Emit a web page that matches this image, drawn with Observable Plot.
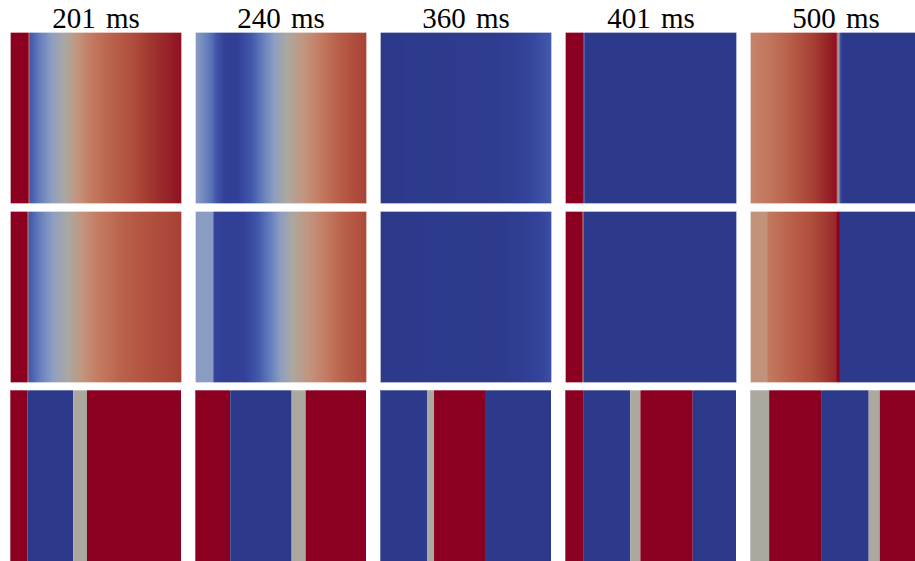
<!DOCTYPE html>
<html><head><meta charset="utf-8">
<script src="https://cdn.jsdelivr.net/npm/d3@7"></script>
<script src="https://cdn.jsdelivr.net/npm/@observablehq/plot@0.6"></script>
<style>html,body{margin:0;padding:0;background:#fff;overflow:hidden}
#chart svg{max-width:none !important;}
#chart text{font-family:"Liberation Serif","DejaVu Serif",serif !important;word-spacing:3px;}</style>
</head><body><div id="chart"></div>
<script>
// Column titles and row ids
const times = ["201 ms", "240 ms", "360 ms", "401 ms", "500 ms"];
const rows = ["r1", "r2", "r3"];

// Diverging colour map (value -1 = blue, 0 = grey, 1 = red)
const cmapValues = [-1, -0.8, -0.6, -0.4, -0.2, 0, 0.2, 0.35, 0.55, 0.75, 0.9, 1];
const cmapColors = ["#2d3a8c", "#34449b", "#4258ab", "#6680bd", "#8e9fc2", "#aba8a0",
                    "#c2957f", "#c47b62", "#b65a45", "#a43c32", "#951f26", "#8b0020"];

// Rows 1 and 2: profile breakpoints [position 0..1, value]
const r1_201 = [[0,1],[0.107,1],[0.11,-0.62],[0.18,-0.38],[0.25,-0.18],[0.32,0],[0.39,0.2],[0.47,0.35],[0.59,0.5],[0.71,0.62],[0.82,0.78],[0.94,0.9],[1,0.95]];
const r1_240 = [[0,-0.22],[0.05,-0.35],[0.1,-0.5],[0.17,-0.85],[0.23,-0.9],[0.31,-0.65],[0.39,-0.42],[0.46,-0.2],[0.535,0],[0.62,0.18],[0.72,0.33],[0.82,0.5],[0.92,0.62],[1,0.7]];
const r1_360 = [[0,-1],[0.6,-0.97],[0.77,-0.9],[0.9,-0.75],[1,-0.58]];
const r1_401 = [[0,1],[0.104,1],[0.106,0],[0.112,-1],[1,-1]];
const r1_500 = [[0,0.3],[0.11,0.38],[0.23,0.52],[0.35,0.7],[0.45,0.88],[0.5,0.95],[0.512,0.2],[0.523,-0.6],[0.54,-1],[1,-1]];

const r2_201 = [[0,1],[0.101,1],[0.104,-0.62],[0.18,-0.38],[0.26,-0.17],[0.34,0],[0.42,0.2],[0.5,0.33],[0.65,0.5],[0.8,0.6],[1,0.72]];
const r2_240 = [[0,-0.22],[0.104,-0.22],[0.108,-0.8],[0.18,-0.9],[0.28,-0.85],[0.36,-0.62],[0.44,-0.4],[0.5,-0.2],[0.565,0],[0.65,0.18],[0.75,0.33],[0.86,0.5],[1,0.65]];
const r2_360 = [[0,-1],[0.7,-0.98],[0.85,-0.9],[0.95,-0.78],[1,-0.68]];
const r2_401 = [[0,1],[0.1,1],[0.103,0],[0.108,-1],[1,-1]];
const r2_500 = [[0,0.22],[0.098,0.22],[0.102,0.36],[0.23,0.5],[0.35,0.62],[0.465,0.8],[0.5,0.86],[0.508,1],[0.518,1],[0.522,-1],[1,-1]];

// Row 3: discrete bands [x1, x2, state]
const r3_201 = [[0,0.103,1],[0.103,0.37,-1],[0.37,0.45,0],[0.45,1,1]];
const r3_240 = [[0,0.206,1],[0.206,0.565,-1],[0.565,0.647,0],[0.647,1,1]];
const r3_360 = [[0,0.275,-1],[0.275,0.316,0],[0.316,0.614,1],[0.614,1,-1]];
const r3_401 = [[0,0.106,1],[0.106,0.382,-1],[0.382,0.441,0],[0.441,0.747,1],[0.747,1,-1]];
const r3_500 = [[0,0.112,0],[0.112,0.42,1],[0.42,0.694,-1],[0.694,0.759,0],[0.759,1,1]];

// Build tables
const gradProfiles = [[r1_201, r1_240, r1_360, r1_401, r1_500], [r2_201, r2_240, r2_360, r2_401, r2_500]];
const gradData = [];
gradProfiles.forEach((rowProfiles, ri) => rowProfiles.forEach((prof, ci) => prof.forEach(([x, v]) => {
  gradData.push({t: times[ci], row: rows[ri], x, y: 0, v});
  gradData.push({t: times[ci], row: rows[ri], x, y: 1, v});
})));
const bandProfiles = [r3_201, r3_240, r3_360, r3_401, r3_500];
const bandData = [];
bandProfiles.forEach((bands, ci) => bands.forEach(([x1, x2, v]) => bandData.push({t: times[ci], row: rows[2], x1, x2, v})));
const titleData = times.map(t => ({t, row: rows[0]}));

const chart = Plot.plot({
  width: 922, height: 561,
  marginLeft: 9, marginRight: 0, marginTop: 32, marginBottom: 0,
  style: {maxWidth: "none", fontFamily: "'Liberation Serif', 'DejaVu Serif', serif"},
  x: {domain: [0, 1], axis: null},
  y: {domain: [0, 1], axis: null},
  fx: {domain: times, paddingInner: 0.078, paddingOuter: 0, axis: null},
  fy: {domain: rows, paddingInner: 0.0447, paddingOuter: 0, axis: null},
  color: {type: "linear", domain: cmapValues, range: cmapColors, interpolate: "rgb"},
  marks: [
    Plot.raster(gradData, {x: "x", y: "y", fill: "v", fx: "t", fy: "row", interpolate: "barycentric", x1: 0, x2: 1, y1: 0, y2: 1}),
    Plot.rect(bandData, {x1: "x1", x2: "x2", y1: 0, y2: 1, fill: "v", fx: "t", fy: "row"}),
    Plot.frame({stroke: "white", strokeOpacity: 0.3}),
    Plot.text(titleData, {fx: "t", fy: "row", text: "t", frameAnchor: "top", lineAnchor: "bottom", dy: -5,
      fontSize: 29, fontFamily: "Liberation Serif", fill: "black"})
  ]
});
document.getElementById("chart").appendChild(chart);
</script>
</body></html>
